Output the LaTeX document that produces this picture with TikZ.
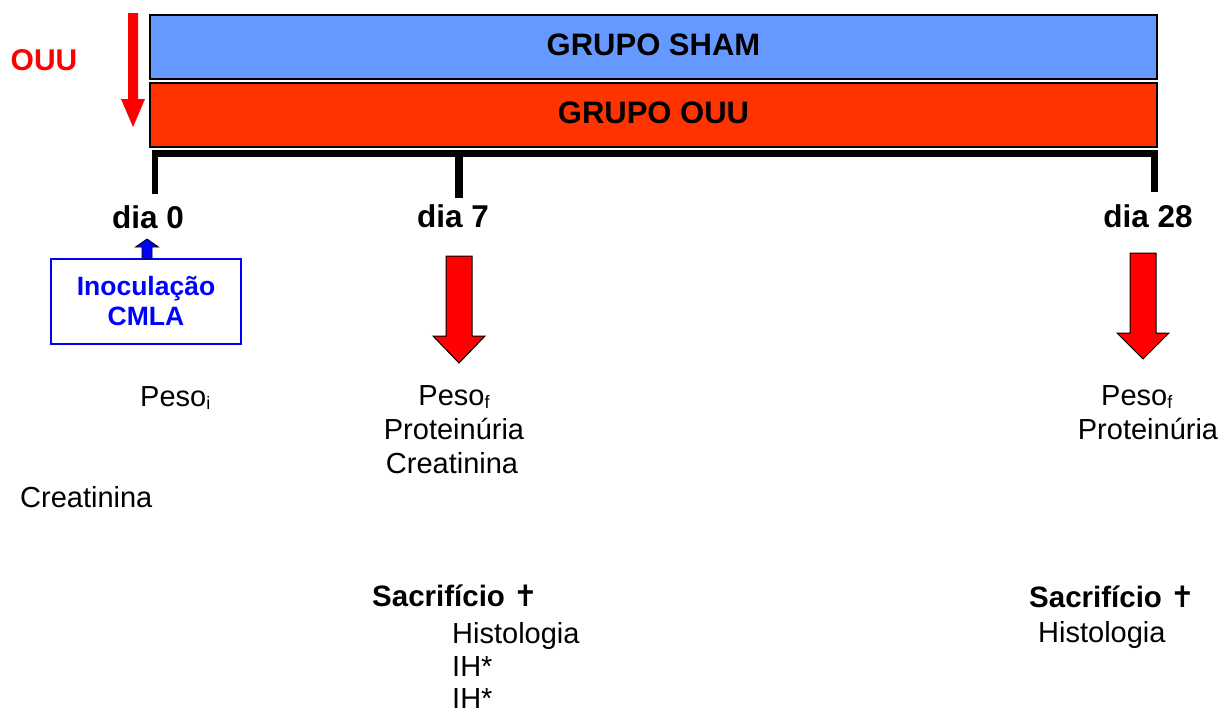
\documentclass[tikz,border=0pt]{standalone}
\usepackage{fontspec}
\setmainfont{Liberation Sans}
\newfontfamily\symfont{DejaVu Sans}
\definecolor{barblue}{RGB}{102,153,255}
\definecolor{barred}{RGB}{255,51,0}
\definecolor{pured}{RGB}{255,0,0}
\definecolor{pureblue}{RGB}{0,0,255}
\newcommand{\sub}[1]{{\fontsize{18}{18}\selectfont\raisebox{-3pt}{#1}}}
\newcommand{\crossmark}{{\symfont\bfseries ✝}}
\begin{document}
\begin{tikzpicture}[x=1pt,y=-1pt,
  bar/.style={draw=black, line width=1.5pt, minimum width=1007pt, minimum height=64pt, inner sep=0pt},
  barlbl/.style={inner sep=0pt, anchor=base, font=\bfseries\fontsize{31}{35}\selectfont},
  dialbl/.style={inner sep=0pt, anchor=base, font=\bfseries\fontsize{31.5}{35}\selectfont},
  txt/.style={inner sep=0pt, font=\fontsize{29}{33}\selectfont},
  btxt/.style={inner sep=0pt, font=\bfseries\fontsize{29.5}{33}\selectfont},
  blockarrow/.style={fill=pured, draw=black, line width=1pt, line join=miter},
  tick/.style={fill=black}]
\useasboundingbox (0,0) rectangle (1221,712);

% bars
\node[bar, fill=barblue] (sham) at (653.5,47) {};
\node[barlbl] (shamlbl) at (653.5,55) {GRUPO SHAM};
\node[bar, fill=barred] (ouubar) at (653.5,115) {};
\node[barlbl] (ouulbl) at (653.5,123) {GRUPO OUU};

% timeline
\fill[tick] (152,150) rectangle (1158,157);
\fill[tick] (152,150) rectangle (158,194);
\fill[tick] (455,150) rectangle (463,198);
\fill[tick] (1151,150) rectangle (1158,192);

% OUU label and arrow
\node[inner sep=0pt, anchor=base, text=pured, font=\bfseries\fontsize{30}{34}\selectfont] (ouu) at (44,70) {OUU};
\fill[pured] (128,13) -- (138,13) -- (138,99) -- (145,99) -- (133,127) -- (121,99) -- (128,99) -- cycle;

% day labels
\node[dialbl] (d0) at (148,228) {dia 0};
\node[dialbl] (d7) at (453,227) {dia 7};
\node[dialbl] (d28) at (1148,227) {dia 28};

% inoculation box
\node[draw=pureblue, line width=1.5pt, minimum width=190pt, minimum height=85pt, inner sep=0pt, align=center, text=pureblue, font=\bfseries\fontsize{26.5}{30}\selectfont] (inoc) at (146,301.5) {Inoculação\\CMLA};
\filldraw[fill=pureblue, draw=black, line width=0.8pt, line join=miter] (142,259) -- (142,247) -- (135.5,247) -- (147,239) -- (158.5,247) -- (152,247) -- (152,259) -- cycle;

% big red arrows
\filldraw[blockarrow] (446,256) -- (472,256) -- (472,336) -- (485,336) -- (459,363) -- (433,336) -- (446,336) -- cycle;
\filldraw[blockarrow] (1130,253) -- (1156,253) -- (1156,333) -- (1169,333) -- (1143,359) -- (1117,333) -- (1130,333) -- cycle;

% measurements
\node[txt, anchor=base west] (pesoi) at (140,406) {Peso\sub{i}};
\node[txt, anchor=base west] (creat0) at (20,507) {Creatinina};

\node[txt, anchor=base] (peso7) at (454,405) {Peso\sub{f}};
\node[txt, anchor=base] (prot7) at (454,439) {Proteinúria};
\node[txt, anchor=base] (creat7) at (452,473) {Creatinina};

\node[txt, anchor=base west] (peso28) at (1101,405) {Peso\sub{f}};
\node[txt, anchor=base] (prot28) at (1148,439) {Proteinúria};

% sacrifice
\node[btxt, anchor=base west] (sac7) at (372,606) {Sacrifício \crossmark};
\node[txt, anchor=base west] (hist7) at (452,643) {Histologia};
\node[txt, anchor=base west] (ih7a) at (452,676) {IH*};
\node[txt, anchor=base west] (ih7b) at (452,708) {IH*};

\node[btxt, anchor=base west] (sac28) at (1029,607) {Sacrifício \crossmark};
\node[txt, anchor=base west] (hist28) at (1038,642) {Histologia};
\end{tikzpicture}
\end{document}
